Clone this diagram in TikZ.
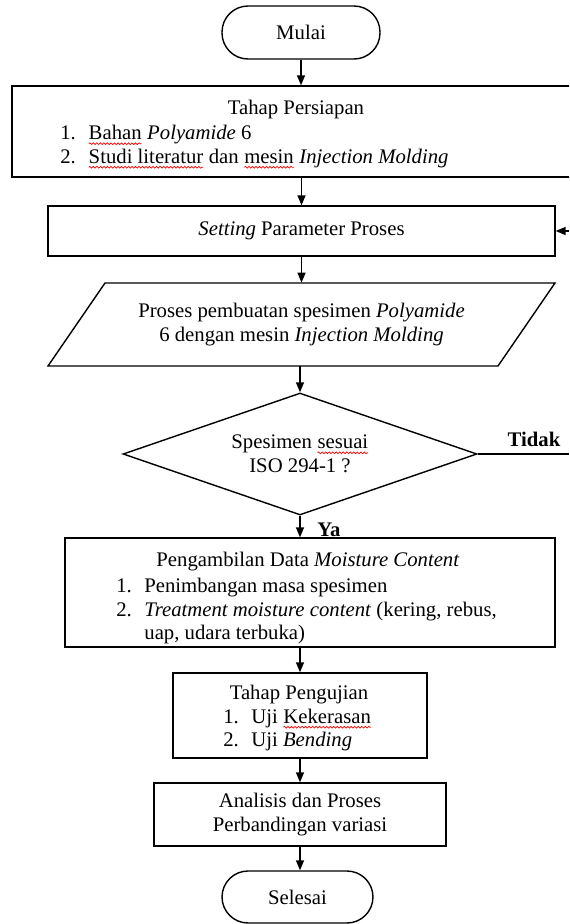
\documentclass[tikz,border=0pt]{standalone}
\usepackage{fontspec}
\setmainfont{Liberation Serif}
\usetikzlibrary{arrows.meta, shapes.geometric, decorations.pathmorphing}

% red wavy underline as in the word processor
\newcommand{\salah}[1]{\tikz[baseline=(w.base)]{\node[shape=rectangle, draw=none, inner sep=0pt, outer sep=0pt, minimum width=0pt, minimum height=0pt, anchor=base] (w) {#1};
  \draw[red, line width=0.4pt, decorate, decoration={snake, amplitude=0.5pt, segment length=2pt}] ([yshift=-2.2pt]w.base west) -- ([yshift=-2.2pt]w.base east);}}

\begin{document}
\begin{tikzpicture}[x=0.02cm, y=-0.02cm,
every node/.style={font=\fontsize{11.8}{13.4}\selectfont, inner sep=0pt},
terminal/.style={draw, line width=0.8pt, rounded corners=0.52cm, minimum width=3.16cm, minimum height=1.06cm},
proses/.style={draw, line width=0.8pt, rectangle},
keputusan/.style={draw, line width=0.8pt, diamond, aspect=2.9, minimum width=7.08cm, minimum height=2.44cm},
teks/.style={align=center},
daftar/.style={anchor=north west, align=left},
jawab/.style={font=\fontsize{11.8}{13.4}\selectfont\bfseries},
panah/.style={line width=0.8pt, -{Triangle[length=2mm,width=1.6mm]}},
garis/.style={line width=0.8pt}]
\useasboundingbox (0,0) rectangle (569,924);
\clip (0,0) rectangle (569,924);
%================================================================
% Start
\node[terminal] (mulai) at (301,32.5) {Mulai};

%================================================================
% Persiapan
\node[proses, minimum width=11.36cm, minimum height=1.82cm] (siap) at (296,131.5) {};
\node (siapjudul) at (296,110) {Tahap Persiapan};
\node[daftar] (siapisi) at (60,123) {\begin{tabular}{@{}l@{\hspace{0.25cm}}l@{}}
1. & \salah{Bahan} \textit{Polyamide} 6\\
2. & \salah{Studi literatur} dan \salah{mesin} \textit{Injection Molding}
\end{tabular}};

% --------------------------------
% Setting
\node[proses, minimum width=10.14cm, minimum height=1cm] (setting) at (301.5,231) {\textit{Setting} Parameter Proses};

% --------------------------------
% Pembuatan spesimen
\node[teks, minimum height=1.66cm] (buat) at (301.5,324.5) {Proses pembuatan spesimen \textit{Polyamide}\\6 dengan mesin \textit{Injection Molding}};
\draw[garis] (48,366) -- (498,366) -- (555,283) -- (105,283) -- cycle;

%================================================================
% Keputusan
\node[keputusan, teks] (cek) at (300,454) {Spesimen \salah{sesuai}\\ISO 294-1 ?};
\coordinate (balik) at (569,454);
\coordinate (masuk) at (569,231);
\draw[garis] (cek.east) -- (balik);
\node[jawab] (tidak) at (534,439) {Tidak};
\draw[panah] (masuk) -- (setting.east);
\node[jawab] (ya) at (329,530) {Ya};

%================================================================
% Moisture content
\node[proses, minimum width=9.8cm, minimum height=2.18cm] (ambil) at (310,592.5) {};
\node (ambiljudul) at (308,562) {Pengambilan Data \textit{Moisture Content}};
\node[daftar] (ambilisi) at (116,576) {\begin{tabular}{@{}l@{\hspace{0.25cm}}l@{}}
1. & Penimbangan masa spesimen\\
2. & \textit{Treatment moisture content} (kering, rebus,\\
   & uap, udara terbuka)
\end{tabular}};

% --------------------------------
% Pengujian
\node[proses, minimum width=5.08cm, minimum height=1.7cm] (uji) at (300,715.5) {};
\node (ujijudul) at (299,695) {Tahap Pengujian};
\node[daftar] (ujiisi) at (223,706.5) {\begin{tabular}{@{}l@{\hspace{0.25cm}}l@{}}
1. & Uji \salah{Kekerasan}\\
2. & Uji \textit{Bending}
\end{tabular}};

% --------------------------------
% Analisis
\node[proses, teks, minimum width=5.84cm, minimum height=1.26cm] (analisis) at (300,814.5) {Analisis dan Proses\\Perbandingan variasi};

% --------------------------------
% End
\node[terminal, minimum width=3.02cm, minimum height=1.04cm] (selesai) at (297.5,897) {Selesai};

%================================================================
% Arrows
\draw[panah] (mulai.south) -- (mulai.south |- siap.north);
\draw[panah] (setting.north |- siap.south) -- (setting.north);
\draw[panah] (setting.south) -- (setting.south |- buat.north);
\draw[panah] (cek.north |- buat.south) -- (cek.north);
\draw[panah] (cek.south) -- (cek.south |- ambil.north);
\draw[panah] (uji.north |- ambil.south) -- (uji.north);
\draw[panah] (uji.south) -- (analisis.north);
\draw[panah] (analisis.south) -- (analisis.south |- selesai.north);

%================================================================
\end{tikzpicture}
\end{document}
